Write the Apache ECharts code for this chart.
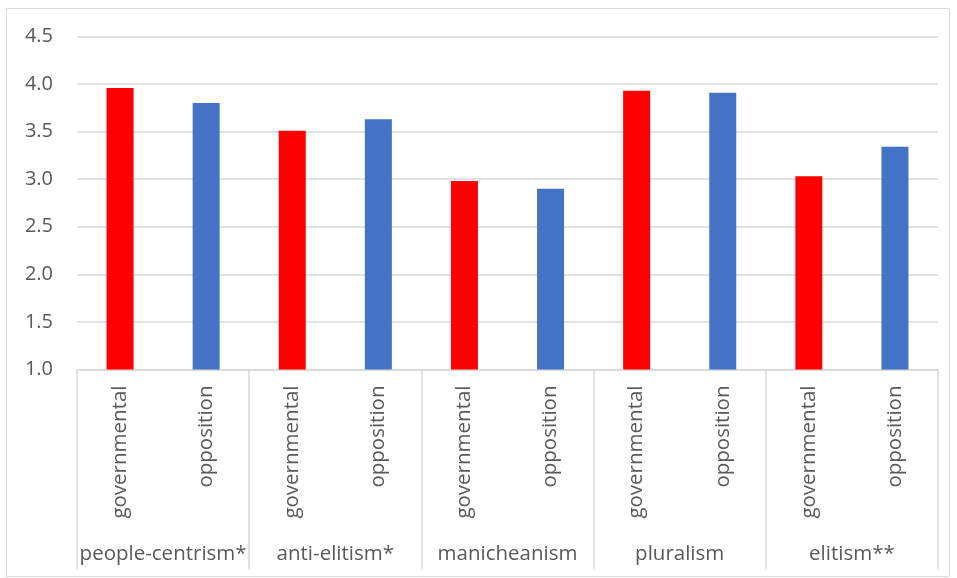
<!DOCTYPE html>
<html>
<head>
<meta charset="utf-8">
<script src="https://cdn.jsdelivr.net/npm/echarts@6/dist/echarts.min.js"></script>
<style>
  html, body { margin: 0; padding: 0; background: #fff; }
  #chart { width: 957px; height: 578px; }
</style>
</head>
<body>
<div id="chart"></div>
<script>
// Populism dimensions, mean scores by party type
const groups = ['people-centrism*', 'anti-elitism*', 'manicheanism', 'pluralism', 'elitism**'];
const partyTypes = ['governmental', 'opposition'];
const governmental = [3.96, 3.51, 2.98, 3.93, 3.03];
const opposition = [3.80, 3.63, 2.90, 3.91, 3.34];
const yTicks = [1.0, 1.5, 2.0, 2.5, 3.0, 3.5, 4.0, 4.5];

const partyColors = { governmental: '#FF0000', opposition: '#4472C4' };
const font = '"Open Sans", "Noto Sans", sans-serif';
const textColor = '#595959';
const lineColor = '#d9d9d9';

// Flatten into one bar per (group, party type)
const subCategories = [];
const barData = [];
groups.forEach((g, i) => {
  partyTypes.forEach(p => {
    subCategories.push(p);
    const v = p === 'governmental' ? governmental[i] : opposition[i];
    barData.push({ value: v, itemStyle: { color: partyColors[p] } });
  });
});

const chart = echarts.init(document.getElementById('chart'), null, { renderer: 'canvas' });
chart.setOption({
  animation: false,
  backgroundColor: '#ffffff',
  grid: { left: 77, right: 19, top: 36.5, bottom: 208.5, containLabel: false },
  xAxis: [
    {
      type: 'category',
      data: subCategories,
      position: 'bottom',
      axisLine: { show: true, lineStyle: { color: lineColor, width: 1.5 } },
      axisTick: { show: false },
      axisLabel: {
        interval: 0, rotate: 90, margin: 16,
        fontFamily: font, fontSize: 20.5, color: textColor
      }
    },
    {
      type: 'category',
      data: groups,
      position: 'bottom',
      offset: 0,
      axisLine: { show: false },
      axisTick: { show: true, length: 200, interval: 0, lineStyle: { color: lineColor, width: 1.5 } },
      axisLabel: {
        interval: 0, margin: 174,
        fontFamily: font, fontSize: 20.5, color: textColor
      }
    }
  ],
  yAxis: {
    type: 'value',
    min: yTicks[0],
    max: yTicks[yTicks.length - 1],
    interval: 0.5,
    axisLine: { show: false },
    axisTick: { show: false },
    splitLine: { lineStyle: { color: lineColor, width: 1.5 } },
    axisLabel: {
      margin: 24,
      fontFamily: font, fontSize: 20, color: textColor,
      formatter: v => v.toFixed(1)
    }
  },
  series: [
    {
      type: 'bar',
      xAxisIndex: 0,
      data: barData,
      barWidth: 27
    }
  ],
  graphic: [
    {
      type: 'rect',
      shape: { x: 6.5, y: 8.5, width: 943, height: 568 },
      style: { fill: 'none', stroke: lineColor, lineWidth: 1 },
      silent: true,
      z: -1
    }
  ]
});
</script>
</body>
</html>
